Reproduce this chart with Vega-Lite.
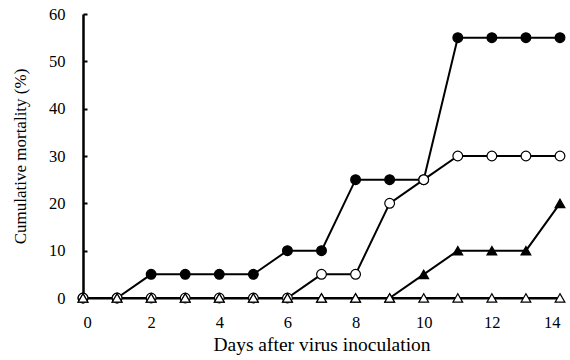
{
  "$schema": "https://vega.github.io/schema/vega-lite/v6.json",
  "width": 477,
  "height": 284,
  "autosize": "none",
  "padding": {"left": 83, "top": 14, "right": 10, "bottom": 62},
  "background": "white",
  "config": {
    "view": {"stroke": null},
    "font": "Liberation Serif",
    "axis": {"labelFont": "Liberation Serif", "titleFont": "Liberation Serif", "labelColor": "black", "titleColor": "black", "domainColor": "black", "tickColor": "black", "grid": false, "titleFontWeight": "normal"}
  },
  "data": {
    "values": [
      {"day": 0, "v": 0, "s": "A"}, {"day": 1, "v": 0, "s": "A"}, {"day": 2, "v": 5, "s": "A"}, {"day": 3, "v": 5, "s": "A"}, {"day": 4, "v": 5, "s": "A"}, {"day": 5, "v": 5, "s": "A"}, {"day": 6, "v": 10, "s": "A"}, {"day": 7, "v": 10, "s": "A"}, {"day": 8, "v": 25, "s": "A"}, {"day": 9, "v": 25, "s": "A"}, {"day": 10, "v": 25, "s": "A"}, {"day": 11, "v": 55, "s": "A"}, {"day": 12, "v": 55, "s": "A"}, {"day": 13, "v": 55, "s": "A"}, {"day": 14, "v": 55, "s": "A"},
      {"day": 0, "v": 0, "s": "B"}, {"day": 1, "v": 0, "s": "B"}, {"day": 2, "v": 0, "s": "B"}, {"day": 3, "v": 0, "s": "B"}, {"day": 4, "v": 0, "s": "B"}, {"day": 5, "v": 0, "s": "B"}, {"day": 6, "v": 0, "s": "B"}, {"day": 7, "v": 5, "s": "B"}, {"day": 8, "v": 5, "s": "B"}, {"day": 9, "v": 20, "s": "B"}, {"day": 10, "v": 25, "s": "B"}, {"day": 11, "v": 30, "s": "B"}, {"day": 12, "v": 30, "s": "B"}, {"day": 13, "v": 30, "s": "B"}, {"day": 14, "v": 30, "s": "B"},
      {"day": 0, "v": 0, "s": "C"}, {"day": 1, "v": 0, "s": "C"}, {"day": 2, "v": 0, "s": "C"}, {"day": 3, "v": 0, "s": "C"}, {"day": 4, "v": 0, "s": "C"}, {"day": 5, "v": 0, "s": "C"}, {"day": 6, "v": 0, "s": "C"}, {"day": 7, "v": 0, "s": "C"}, {"day": 8, "v": 0, "s": "C"}, {"day": 9, "v": 0, "s": "C"}, {"day": 10, "v": 5, "s": "C"}, {"day": 11, "v": 10, "s": "C"}, {"day": 12, "v": 10, "s": "C"}, {"day": 13, "v": 10, "s": "C"}, {"day": 14, "v": 20, "s": "C"},
      {"day": 0, "v": 0, "s": "D"}, {"day": 1, "v": 0, "s": "D"}, {"day": 2, "v": 0, "s": "D"}, {"day": 3, "v": 0, "s": "D"}, {"day": 4, "v": 0, "s": "D"}, {"day": 5, "v": 0, "s": "D"}, {"day": 6, "v": 0, "s": "D"}, {"day": 7, "v": 0, "s": "D"}, {"day": 8, "v": 0, "s": "D"}, {"day": 9, "v": 0, "s": "D"}, {"day": 10, "v": 0, "s": "D"}, {"day": 11, "v": 0, "s": "D"}, {"day": 12, "v": 0, "s": "D"}, {"day": 13, "v": 0, "s": "D"}, {"day": 14, "v": 0, "s": "D"}
    ]
  },
  "encoding": {
    "x": {
      "field": "day", "type": "quantitative",
      "scale": {"domain": [0, 14], "nice": false},
      "axis": {"title": "Days after virus inoculation", "values": [0, 2, 4, 6, 8, 10, 12, 14], "domainWidth": 2, "ticks": false, "labelPadding": 16, "labelFontSize": 16.5, "titleFontSize": 19.5, "titlePadding": 5}
    },
    "y": {
      "field": "v", "type": "quantitative",
      "scale": {"domain": [0, 60], "nice": false},
      "axis": {"title": "Cumulative mortality (%)", "values": [0, 10, 20, 30, 40, 50, 60], "domainWidth": 2.5, "tickSize": -4, "tickWidth": 2, "labelPadding": 22, "labelFontSize": 16.5, "titleFontSize": 17, "titlePadding": 19}
    }
  },
  "layer": [
    {
      "mark": {"type": "line", "color": "black", "strokeWidth": 2},
      "encoding": {"detail": {"field": "s"}}
    },
    {
      "mark": {"type": "point", "stroke": "black", "strokeWidth": 1.2, "opacity": 1, "filled": false},
      "encoding": {
        "shape": {"field": "s", "type": "nominal", "scale": {"domain": ["A", "B", "C", "D"], "range": ["circle", "circle", "triangle-up", "triangle-up"]}, "legend": null},
        "fill": {"field": "s", "type": "nominal", "scale": {"domain": ["A", "B", "C", "D"], "range": ["black", "white", "black", "white"]}, "legend": null},
        "size": {"value": 95}
      }
    }
  ]
}
